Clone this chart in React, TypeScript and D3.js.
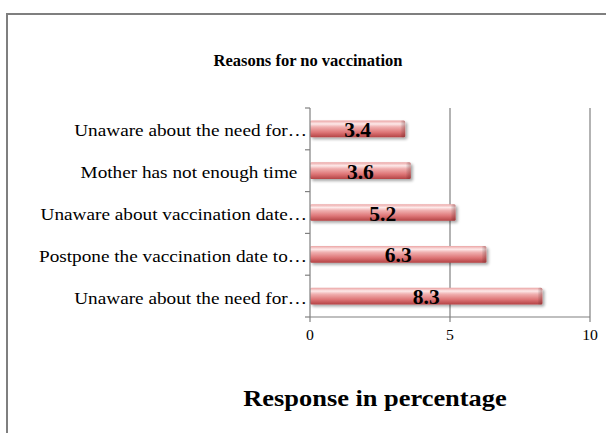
import React from "react";
import * as d3 from "d3";

const categories = [
  "Unaware about the need for…",
  "Mother has not enough time\u00a0\u00a0",
  "Unaware about vaccination date…",
  "Postpone the vaccination date to…",
  "Unaware about the need for…",
];
const values = [3.4, 3.6, 5.2, 6.3, 8.3];
const xTicks = [0, 5, 10];
const title = "Reasons for no vaccination";
const axisTitle = "Response in percentage";

const W = 606;
const H = 433;
const plot = { left: 310, right: 590, top: 108, bottom: 317 };
const serif = "'Liberation Serif', 'DejaVu Serif', serif";

function T(props: {
  x: number;
  y: number;
  sx?: number;
  anchor?: "start" | "middle" | "end";
  size: number;
  bold?: boolean;
  children: React.ReactNode;
}) {
  const { x, y, sx = 1, anchor = "middle", size, bold, children } = props;
  return (
    <text
      transform={`translate(${x},${y}) scale(${sx},1)`}
      textAnchor={anchor}
      fontFamily={serif}
      fontWeight={bold ? "bold" : "normal"}
      fontSize={size}
      fill="#000"
      style={{ whiteSpace: "pre" }}
    >
      {children}
    </text>
  );
}

export default function App() {
  const x = d3.scaleLinear().domain([0, 10]).range([plot.left, plot.right]);
  const y = d3
    .scaleBand<number>()
    .domain(categories.map((_, i) => i))
    .range([plot.top, plot.bottom])
    .paddingInner(0.6)
    .paddingOuter(0.3);
  const band = (plot.bottom - plot.top) / categories.length;
  const boundaries = d3.range(categories.length + 1).map((i) => plot.top + i * band);

  return (
    <svg
      width={W}
      height={H}
      style={{ position: "absolute", left: 0, top: 0, background: "#fff" }}
    >
      <defs>
        <linearGradient id="barGrad" x1="0" y1="0" x2="0" y2="1">
          <stop offset="0" stopColor="#eba3a3" />
          <stop offset="0.2" stopColor="#fde9e9" />
          <stop offset="0.38" stopColor="#f0b0b0" />
          <stop offset="0.7" stopColor="#de7677" />
          <stop offset="1" stopColor="#b44345" />
        </linearGradient>
        <linearGradient id="capGrad" x1="0" y1="0" x2="1" y2="0">
          <stop offset="0" stopColor="#000" stopOpacity="0" />
          <stop offset="1" stopColor="#7a1f20" stopOpacity="0.35" />
        </linearGradient>
        <filter id="shadow" x="-5%" y="-30%" width="115%" height="170%">
          <feGaussianBlur in="SourceAlpha" stdDeviation="1.5" />
          <feOffset dx="1.5" dy="2" result="b" />
          <feComponentTransfer>
            <feFuncA type="linear" slope="0.35" />
          </feComponentTransfer>
          <feMerge>
            <feMergeNode />
            <feMergeNode in="SourceGraphic" />
          </feMerge>
        </filter>
      </defs>

      {/* frame */}
      <rect x={7} y={14} width={640} height={460} fill="none" stroke="#7f7f7f" strokeWidth={2} />

      {/* title */}
      <T x={308} y={66} size={16.5} bold>
        {title}
      </T>

      {/* gridlines */}
      {xTicks
        .filter((t) => t > 0)
        .map((t) => (
          <line
            key={"g" + t}
            x1={x(t)}
            x2={x(t)}
            y1={plot.top}
            y2={plot.bottom}
            stroke="#808080"
            strokeWidth={1.2}
          />
        ))}

      {/* bars */}
      {values.map((v, i) => {
        const y0 = y(i)!;
        const h = y.bandwidth();
        const w = x(v) - x(0);
        return (
          <g key={"b" + i} filter="url(#shadow)">
            <rect x={x(0)} y={y0} width={w} height={h} fill="url(#barGrad)" rx={1.5} />
            <rect x={x(v) - 5} y={y0} width={5} height={h} fill="url(#capGrad)" rx={1.5} />
          </g>
        );
      })}

      {/* value labels */}
      {values.map((v, i) => (
        <T
          key={"v" + i}
          x={(x(0) + x(v)) / 2}
          y={y(i)! + y.bandwidth() / 2 + 8}
          size={21.5}
          bold
        >
          {v.toFixed(1)}
        </T>
      ))}

      {/* y axis */}
      <line x1={plot.left} x2={plot.left} y1={plot.top} y2={plot.bottom} stroke="#808080" strokeWidth={1.2} />
      {boundaries.map((b, i) => (
        <line key={"yt" + i} x1={plot.left - 5} x2={plot.left} y1={b} y2={b} stroke="#808080" strokeWidth={1.2} />
      ))}
      {categories.map((c, i) => (
        <T
          key={"c" + i}
          x={plot.left - 3}
          y={y(i)! + y.bandwidth() / 2 + 7.5}
          anchor="end"
          size={17.5}
          sx={1.1}
        >
          {c}
        </T>
      ))}

      {/* x axis */}
      <line x1={plot.left} x2={plot.right} y1={plot.bottom} y2={plot.bottom} stroke="#808080" strokeWidth={1.2} />
      {xTicks.map((t) => (
        <g key={"xt" + t}>
          <line x1={x(t)} x2={x(t)} y1={plot.bottom} y2={plot.bottom + 5} stroke="#808080" strokeWidth={1.2} />
          <T x={x(t)} y={plot.bottom + 23} size={15} sx={1.05}>
            {t}
          </T>
        </g>
      ))}

      {/* axis title */}
      <T x={375} y={406} size={24} sx={1.1} bold>
        {axisTitle}
      </T>
    </svg>
  );
}
